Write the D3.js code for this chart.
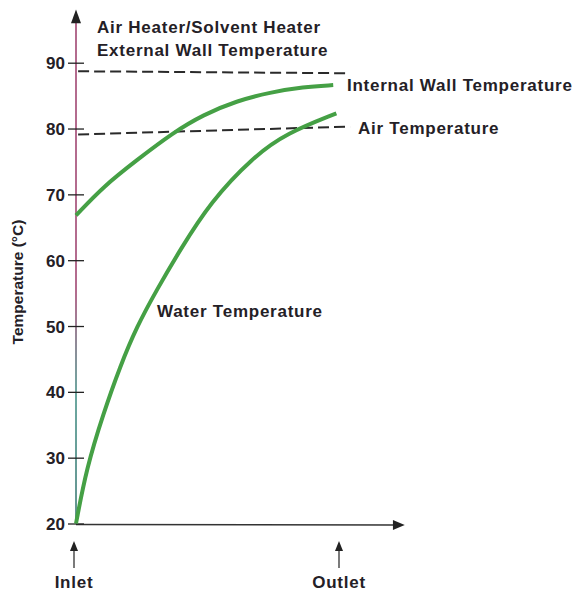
<!DOCTYPE html>
<html>
<head>
<meta charset="utf-8">
<script src="https://cdn.jsdelivr.net/npm/d3@7"></script>
<style>
  body { margin: 0; background: #fff; }
  text { font-family: "Liberation Sans", Arial, sans-serif; fill: #242026; }
</style>
</head>
<body>
<div id="chart"></div>
<script>
// DATA (position along heater: inlet = 0, outlet = 100)
const yTicks = [20, 30, 40, 50, 60, 70, 80, 90];

const internalWallPos  = [0, 10.4, 23.1, 37, 48.4, 61.1, 73.8, 86.4, 97.8];
const internalWallTemp = [66.8, 71.2, 75.2, 79.4, 82.1, 84.2, 85.5, 86.3, 86.6];

const waterPos  = [0, 4, 10.4, 16.7, 23.1, 30.7, 39.5, 51, 67.4, 80.1, 99];
const waterTemp = [20, 28.4, 36.7, 43.8, 49.9, 55.5, 61.5, 68.8, 75.7, 79.3, 82.3];

const externalWallPos  = [0.8, 102.7];
const externalWallTemp = [88.7, 88.4];

const airPos  = [0.8, 104.2];
const airTemp = [79.1, 80.3];

const width = 574;
const height = 592;

const svg = d3.select("#chart")
  .append("svg")
  .attr("width", width)
  .attr("height", height);

const x = d3.scaleLinear().domain([0, 100]).range([76, 339]);
const y = d3.scaleLinear().domain([20, 90]).range([523.5, 62.7]);

const defs = svg.append("defs");
const grad = defs.append("linearGradient")
  .attr("id", "yaxis-grad")
  .attr("gradientUnits", "userSpaceOnUse")
  .attr("x1", 0).attr("y1", y(98))
  .attr("x2", 0).attr("y2", y(20));
grad.append("stop").attr("offset", "0%").attr("stop-color", "#9a3a68");
grad.append("stop").attr("offset", "55%").attr("stop-color", "#9a3a68");
grad.append("stop").attr("offset", "75%").attr("stop-color", "#3a8a80");
grad.append("stop").attr("offset", "100%").attr("stop-color", "#2f6f6a");

// AXIS LINES WITH ARROWS
svg.append("line")
  .attr("x1", x(0)).attr("x2", x(0))
  .attr("y1", y(20)).attr("y2", y(97))
  .attr("stroke", "url(#yaxis-grad)")
  .attr("stroke-width", 1.5);

svg.append("path")
  .attr("d", `M${x(0)},${y(98.1)} L${x(0) - 5},${y(96)} L${x(0) + 5},${y(96)} Z`)
  .attr("fill", "#222");

svg.append("line")
  .attr("x1", x(0)).attr("x2", x(122))
  .attr("y1", y(20) + 1).attr("y2", y(20) + 1.5)
  .attr("stroke", "#333")
  .attr("stroke-width", 1.5);

svg.append("path")
  .attr("d", `M${x(125)},${y(20) + 1.5} L${x(120.5)},${y(20) - 3.5} L${x(120.5)},${y(20) + 6.5} Z`)
  .attr("fill", "#222");

// Y AXIS TICKS
const yAxis = svg.append("g")
  .attr("transform", `translate(${x(0)},0)`)
  .call(d3.axisLeft(y).tickValues(yTicks).tickSize(8).tickPadding(3));

yAxis.select(".domain").remove();
yAxis.selectAll(".tick line")
  .attr("x1", 8)
  .attr("x2", -8)
  .attr("stroke", "#222")
  .attr("stroke-width", 1.3);
yAxis.selectAll(".tick text")
  .attr("dy", "0.36em")
  .style("font-family", "Liberation Sans, Arial, sans-serif")
  .style("font-size", "17px")
  .style("font-weight", "bold")
  .style("fill", "#242026");

// Y LABEL
svg.append("text")
  .attr("transform", `translate(23, 282) rotate(-90)`)
  .attr("text-anchor", "middle")
  .style("font-size", "15.5px")
  .style("font-weight", "bold")
  .text("Temperature (°C)");

// DASHED LINES
const line = d3.line()
  .x(d => x(d[0]))
  .y(d => y(d[1]));

svg.append("path")
  .datum(d3.zip(externalWallPos, externalWallTemp))
  .attr("d", line)
  .attr("fill", "none")
  .attr("stroke", "#2a2a2a")
  .attr("stroke-width", 2)
  .attr("stroke-dasharray", "11,5");

svg.append("path")
  .datum(d3.zip(airPos, airTemp))
  .attr("d", line)
  .attr("fill", "none")
  .attr("stroke", "#2a2a2a")
  .attr("stroke-width", 2)
  .attr("stroke-dasharray", "11,5");

// CURVES
const curve = d3.line()
  .x(d => x(d[0]))
  .y(d => y(d[1]))
  .curve(d3.curveBasis);

svg.append("path")
  .datum(d3.zip(internalWallPos, internalWallTemp))
  .attr("d", curve)
  .attr("fill", "none")
  .attr("stroke", "#45a045")
  .attr("stroke-width", 4)
  .attr("stroke-linecap", "butt");

svg.append("path")
  .datum(d3.zip(waterPos, waterTemp))
  .attr("d", curve)
  .attr("fill", "none")
  .attr("stroke", "#45a045")
  .attr("stroke-width", 4)
  .attr("stroke-linecap", "butt");

// LABELS
function label(tx, ty, str) {
  svg.append("text")
    .attr("x", tx)
    .attr("y", ty)
    .style("font-size", "17px")
    .style("font-weight", "bold")
    .style("letter-spacing", "0.75px")
    .text(str);
}

label(97, 32.5, "Air Heater/Solvent Heater");
label(97, 56, "External Wall Temperature");
label(347, 91, "Internal Wall Temperature");
label(358, 134, "Air Temperature");
label(157, 317, "Water Temperature");

// INLET / OUTLET ARROWS
function marker(px, str) {
  svg.append("line")
    .attr("x1", px).attr("x2", px)
    .attr("y1", 568).attr("y2", 546)
    .attr("stroke", "#333")
    .attr("stroke-width", 1.3);
  svg.append("path")
    .attr("d", `M${px},${541} L${px - 4},${551} L${px + 4},${551} Z`)
    .attr("fill", "#222");
  svg.append("text")
    .attr("x", px)
    .attr("y", 588)
    .attr("text-anchor", "middle")
    .style("font-size", "17px")
    .style("font-weight", "bold")
    .style("letter-spacing", "0.75px")
    .text(str);
}

marker(x(0) - 2, "Inlet");
marker(x(100), "Outlet");
</script>
</body>
</html>
